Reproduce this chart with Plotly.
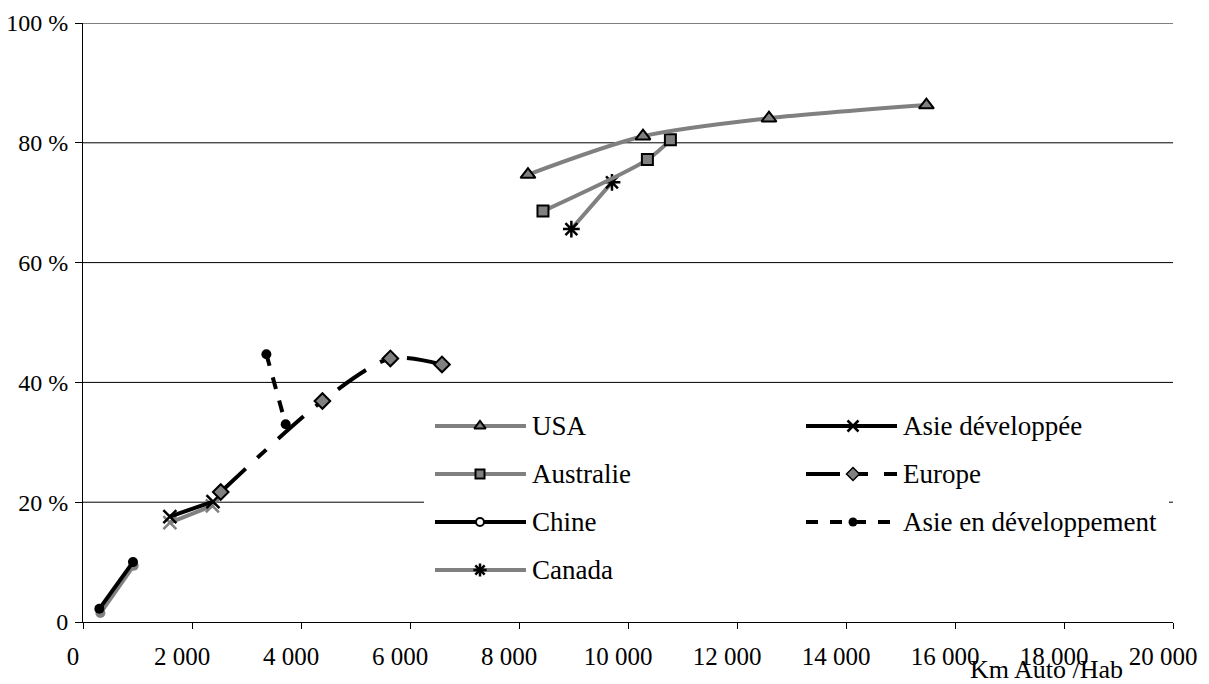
import plotly.graph_objects as go

# ---------------- data ----------------
usa_x = [8165, 10275, 12587, 15475]
usa_y = [74.7, 81.1, 84.1, 86.3]
australie_x = [8440, 10356, 10778]
australie_y = [68.6, 77.2, 80.5]
canada_x = [8961, 9706]
canada_y = [65.6, 73.4]
chine_x = [300, 917]
chine_y = [2.2, 10.0]
chine_gris_x = [319, 930]
chine_gris_y = [1.5, 9.4]
asie_dev_x = [1594, 2385]
asie_dev_y = [17.6, 20.1]
asie_dev_gris_x = [1594, 2374]
asie_dev_gris_y = [16.6, 19.4]
europe_x = [2527, 4393, 5640, 6587]
europe_y = [21.7, 36.9, 44.0, 43.0]
asie_endev_x = [3365, 3719]
asie_endev_y = [44.7, 33.0]

x_tickvals = [0, 2000, 4000, 6000, 8000, 10000, 12000, 14000, 16000, 18000, 20000]
x_ticktext = ["0", "2 000", "4 000", "6 000", "8 000", "10 000", "12 000",
              "14 000", "16 000", "18 000", "20 000"]
y_tickvals = [0, 20, 40, 60, 80, 100]
y_ticktext = ["0", "20 %", "40 %", "60 %", "80 %", "100 %"]
grid_vals = [20, 40, 60, 80, 100]

# ---------------- styles / layout ----------------
GRAY = "#808080"
BLACK = "#000000"
FONT = "Liberation Serif"
EURO_DASH = "34px,16px,12px,16px"
AED_DASH = "12px,12px"

BODY = 8                      # default page body margin of the html page
W, H = 1209 - BODY, 684 - BODY
PX0, PX1, PY0, PY1 = 83, 1173, 23, 622     # plot area in page pixels
ML, MT = PX0 - BODY, PY0 - BODY
MR, MB = 1209 - PX1, 684 - PY1
PW, PH = PX1 - PX0, PY1 - PY0


def px_x(p):
    return (p - PX0) / PW


def px_y(p):
    return (PY1 - p) / PH


series = [
    # name, x, y, line color, dash, marker symbol, marker fill, marker size, marker line width
    ("chine_gris", chine_gris_x, chine_gris_y, GRAY, "solid", "circle", GRAY, 10, 0),
    ("asie_dev_gris", asie_dev_gris_x, asie_dev_gris_y, GRAY, "solid", "x-thin-open", GRAY, 13, 2.5),
    ("Canada", canada_x, canada_y, GRAY, "solid", "asterisk-open", BLACK, 14, 2.5),
    ("Australie", australie_x, australie_y, GRAY, "solid", "square", GRAY, 11, 2),
    ("USA", usa_x, usa_y, GRAY, "solid", "triangle-up", GRAY, 13, 2),
    ("Chine", chine_x, chine_y, BLACK, "solid", "circle", BLACK, 10, 0),
    ("Asie développée", asie_dev_x, asie_dev_y, BLACK, "solid", "x-thin-open", BLACK, 13, 2.5),
    ("Europe", europe_x, europe_y, BLACK, EURO_DASH, "diamond", GRAY, 12, 2),
    ("Asie en développement", asie_endev_x, asie_endev_y, BLACK, AED_DASH, "circle", BLACK, 10, 0),
]

fig = go.Figure()

for name, xs, ys, lc, dash, sym, mfill, msize, mlw in series:
    mline_color = mfill if sym.endswith("-open") else BLACK
    fig.add_trace(go.Scatter(
        x=xs, y=ys, mode="lines+markers", name=name, showlegend=False,
        line=dict(color=lc, width=4, dash=dash, shape="spline", smoothing=0.8),
        marker=dict(symbol=sym, size=msize, color=mfill,
                    line=dict(color=mline_color, width=mlw)),
        cliponaxis=False,
    ))

# ---------------- gridlines (20 % line interrupted by the legend box) ----------------
LEG_L, LEG_R = 424, 1169
for g in grid_vals:
    if g == 20:
        segs = [(0, px_x(LEG_L)), (px_x(LEG_R), 1)]
    else:
        segs = [(0, 1)]
    for a, b in segs:
        fig.add_shape(type="line", xref="paper", yref="y", x0=a, x1=b, y0=g, y1=g,
                      line=dict(color=BLACK, width=1), layer="below")

# ---------------- manual legend (Excel-like, inside plot) ----------------
legend_entries = [
    # name, column, row, line color, dash, symbol, fill, size, marker line width
    ("USA", 0, 0, GRAY, "solid", "triangle-up", GRAY, 10, 2),
    ("Australie", 0, 1, GRAY, "solid", "square", GRAY, 9, 2),
    ("Chine", 0, 2, BLACK, "solid", "circle", "white", 8, 2),
    ("Canada", 0, 3, GRAY, "solid", "asterisk-open", BLACK, 11, 2.5),
    ("Asie développée", 1, 0, BLACK, "solid", "x-thin-open", BLACK, 11, 2.5),
    ("Europe", 1, 1, BLACK, EURO_DASH, "diamond", GRAY, 10, 1.5),
    ("Asie en développement", 1, 2, BLACK, AED_DASH, "circle", BLACK, 9, 0),
]
col_line = [(435, 526, 480, 530), (806, 897, 853, 901)]
row_y = [426, 474, 522, 570]

for name, c, r, lc, dash, sym, mfill, msize, mlw in legend_entries:
    x0, x1, xm, xt = col_line[c]
    yy = px_y(row_y[r])
    fig.add_trace(go.Scatter(
        x=[px_x(x0), px_x(x1)], y=[yy, yy], mode="lines", xaxis="x2", yaxis="y2",
        line=dict(color=lc, width=4, dash=dash), showlegend=False, hoverinfo="skip",
    ))
    mline_color = mfill if sym.endswith("-open") else BLACK
    fig.add_trace(go.Scatter(
        x=[px_x(xm)], y=[yy], mode="markers", xaxis="x2", yaxis="y2",
        marker=dict(symbol=sym, size=msize, color=mfill,
                    line=dict(color=mline_color, width=mlw)),
        showlegend=False, hoverinfo="skip",
    ))
    fig.add_annotation(
        x=px_x(xt), y=yy, xref="paper", yref="paper", text=name, showarrow=False,
        xanchor="left", yanchor="middle", font=dict(family=FONT, size=27, color=BLACK),
    )

# axis title
fig.add_annotation(
    x=px_x(1046), y=px_y(670), xref="paper", yref="paper", text="Km Auto /Hab",
    showarrow=False, xanchor="center", yanchor="middle",
    font=dict(family=FONT, size=26, color=BLACK),
)

fig.update_layout(
    width=W, height=H,
    margin=dict(l=ML, r=MR, t=MT, b=MB, pad=0, autoexpand=False),
    paper_bgcolor="white", plot_bgcolor="rgba(0,0,0,0)",
    showlegend=False,
    font=dict(family=FONT, color=BLACK),
    xaxis=dict(
        range=[0, 20000], tickvals=x_tickvals, ticktext=x_ticktext,
        showgrid=False, zeroline=False, showline=True, linecolor=BLACK, linewidth=1,
        ticks="outside", ticklen=6, tickcolor=BLACK, tickwidth=1,
        tickfont=dict(family=FONT, size=25, color=BLACK),
        ticklabelshift=-10, ticklabelstandoff=6, automargin=False,
    ),
    yaxis=dict(
        range=[0, 100], tickvals=y_tickvals, ticktext=y_ticktext,
        showgrid=False, zeroline=False,
        showline=True, linecolor=BLACK, linewidth=1,
        ticks="outside", ticklen=7, tickcolor=BLACK, tickwidth=1,
        tickfont=dict(family=FONT, size=24, color=BLACK),
        ticklabelstandoff=2, automargin=False,
    ),
    xaxis2=dict(overlaying="x", range=[0, 1], visible=False, fixedrange=True),
    yaxis2=dict(overlaying="y", range=[0, 1], visible=False, fixedrange=True),
)

fig.write_html("out.html")
